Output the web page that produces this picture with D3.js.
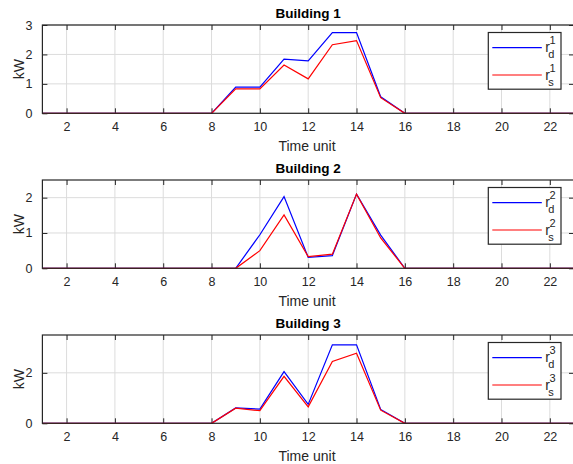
<!DOCTYPE html>
<html>
<head>
<meta charset="utf-8">
<script src="https://cdn.jsdelivr.net/npm/d3@7"></script>
<style>
  body { margin: 0; background: #fff; overflow: hidden; }
  svg { font-family: "Liberation Sans", Arial, sans-serif; }
</style>
</head>
<body>
<div id="chart"></div>
<script>
var width = 573;
var height = 464;

// time units 1..24
var timeUnits = d3.range(1, 25);

// building 1
var rd1 = [0,0,0,0,0,0,0,0,0.89,0.89,1.84,1.78,2.74,2.74,0.56,0,0,0,0,0,0,0,0,0];
var rs1 = [0,0,0,0,0,0,0,0,0.83,0.83,1.64,1.17,2.33,2.47,0.53,0,0,0,0,0,0,0,0,0];
// building 2
var rd2 = [0,0,0,0,0,0,0,0,0,0.95,2.03,0.31,0.36,2.1,0.94,0,0,0,0,0,0,0,0,0];
var rs2 = [0,0,0,0,0,0,0,0,0,0.5,1.51,0.33,0.4,2.1,0.86,0,0,0,0,0,0,0,0,0];
// building 3
var rd3 = [0,0,0,0,0,0,0,0,0.61,0.56,2.05,0.75,3.11,3.11,0.55,0,0,0,0,0,0,0,0,0];
var rs3 = [0,0,0,0,0,0,0,0,0.6,0.5,1.86,0.65,2.45,2.78,0.52,0,0,0,0,0,0,0,0,0];

var xTicks = [2,4,6,8,10,12,14,16,18,20,22];
var titles = ["Building 1", "Building 2", "Building 3"];
var yMax = [3, 2.5, 3.5];
var yTicks = [[0,1,2,3], [0,1,2], [0,2]];
var demand = [rd1, rd2, rd3];
var supply = [rs1, rs2, rs3];

var panelTop = [25, 180, 335];
var panelH = 88.3;
var left = 42.4, right = 574;

var svg = d3.select("#chart").append("svg")
  .attr("width", width)
  .attr("height", height);

var x = d3.scaleLinear().domain([1, 23]).range([left, right]);

titles.forEach(function(title, k) {
  var top = panelTop[k];
  var bottom = top + panelH;
  var y = d3.scaleLinear().domain([0, yMax[k]]).range([bottom, top]);
  var g = svg.append("g");

  g.append("rect")
    .attr("x", left).attr("y", top)
    .attr("width", right - left).attr("height", panelH)
    .attr("fill", "#fff");

  // grid
  g.selectAll(".vgrid").data(xTicks).enter().append("line")
    .attr("x1", function(d) { return x(d); })
    .attr("x2", function(d) { return x(d); })
    .attr("y1", top).attr("y2", bottom)
    .attr("stroke", "#dcdcdc").attr("stroke-width", 1);
  g.selectAll(".hgrid").data(yTicks[k]).enter().append("line")
    .attr("x1", left).attr("x2", right)
    .attr("y1", function(d) { return y(d); })
    .attr("y2", function(d) { return y(d); })
    .attr("stroke", "#dcdcdc").attr("stroke-width", 1);

  // axes (ticks inward)
  var tl = 5;
  g.append("g").attr("transform", "translate(0," + bottom + ")")
    .call(d3.axisBottom(x).tickValues(xTicks).tickSizeInner(-tl).tickSizeOuter(0).tickPadding(9))
    .call(function(a) {
      a.select(".domain").remove();
      a.selectAll("line").attr("stroke", "#262626");
      a.selectAll("text").attr("font-size", 12.5).attr("fill", "#262626")
        .attr("font-family", "Liberation Sans, Arial, sans-serif");
    });
  g.append("g").attr("transform", "translate(0," + top + ")")
    .call(d3.axisTop(x).tickValues(xTicks).tickSizeInner(-tl).tickSizeOuter(0).tickFormat(""))
    .call(function(a) { a.select(".domain").remove(); a.selectAll("line").attr("stroke", "#262626"); });
  g.append("g").attr("transform", "translate(" + left + ",0)")
    .call(d3.axisLeft(y).tickValues(yTicks[k]).tickSizeInner(-tl).tickSizeOuter(0).tickPadding(10).tickFormat(d3.format("d")))
    .call(function(a) {
      a.select(".domain").remove();
      a.selectAll("line").attr("stroke", "#262626");
      a.selectAll("text").attr("font-size", 12.5).attr("fill", "#262626")
        .attr("font-family", "Liberation Sans, Arial, sans-serif");
    });
  g.append("g").attr("transform", "translate(" + right + ",0)")
    .call(d3.axisRight(y).tickValues(yTicks[k]).tickSizeInner(-tl).tickSizeOuter(0).tickFormat(""))
    .call(function(a) { a.select(".domain").remove(); a.selectAll("line").attr("stroke", "#262626"); });

  // lines
  var line = d3.line()
    .x(function(d, i) { return x(timeUnits[i]); })
    .y(function(d) { return y(d); });
  g.append("path").datum(demand[k])
    .attr("d", line).attr("fill", "none")
    .attr("stroke", "#0000ff").attr("stroke-width", 1.2);
  g.append("path").datum(supply[k])
    .attr("d", line).attr("fill", "none")
    .attr("stroke", "#ff0000").attr("stroke-width", 1.2);

  // box
  g.append("rect")
    .attr("x", left).attr("y", top)
    .attr("width", right - left).attr("height", panelH)
    .attr("fill", "none").attr("stroke", "#262626").attr("stroke-width", 1.2);

  // labels
  g.append("text")
    .attr("x", (left + right) / 2).attr("y", top - 7)
    .attr("text-anchor", "middle")
    .attr("font-size", 13.5).attr("font-weight", "bold")
    .text(title);
  g.append("text")
    .attr("x", 307).attr("y", bottom + 38)
    .attr("text-anchor", "middle")
    .attr("font-size", 14).attr("fill", "#262626")
    .text("Time unit");
  g.append("text")
    .attr("transform", "translate(24," + (top + panelH / 2) + ") rotate(-90)")
    .attr("text-anchor", "middle")
    .attr("font-size", 14).attr("fill", "#262626")
    .text("kW");

  // legend
  var lx = 488.3, ly = top + 7.5;
  var leg = g.append("g");
  leg.append("rect")
    .attr("x", lx).attr("y", ly).attr("width", 72.7).attr("height", 56.7)
    .attr("fill", "#fff").attr("stroke", "#262626").attr("stroke-width", 1.2);
  [["d", "#0000ff", 15.2], ["s", "#ff0000", 42.5]].forEach(function(e) {
    leg.append("line")
      .attr("x1", lx + 4).attr("x2", lx + 53.5)
      .attr("y1", ly + e[2]).attr("y2", ly + e[2])
      .attr("stroke", e[1]).attr("stroke-width", 1.2);
    var t = leg.append("text")
      .attr("x", lx + 57).attr("y", ly + e[2] + 4.5)
      .attr("font-size", 14).attr("fill", "#262626");
    t.append("tspan").text("r");
    t.append("tspan").attr("font-size", 11).attr("dy", -8).attr("dx", -0.5).text(k + 1);
    t.append("tspan").attr("font-size", 11).attr("x", lx + 60).attr("dy", 14).text(e[0]);
  });
});
</script>
</body>
</html>
